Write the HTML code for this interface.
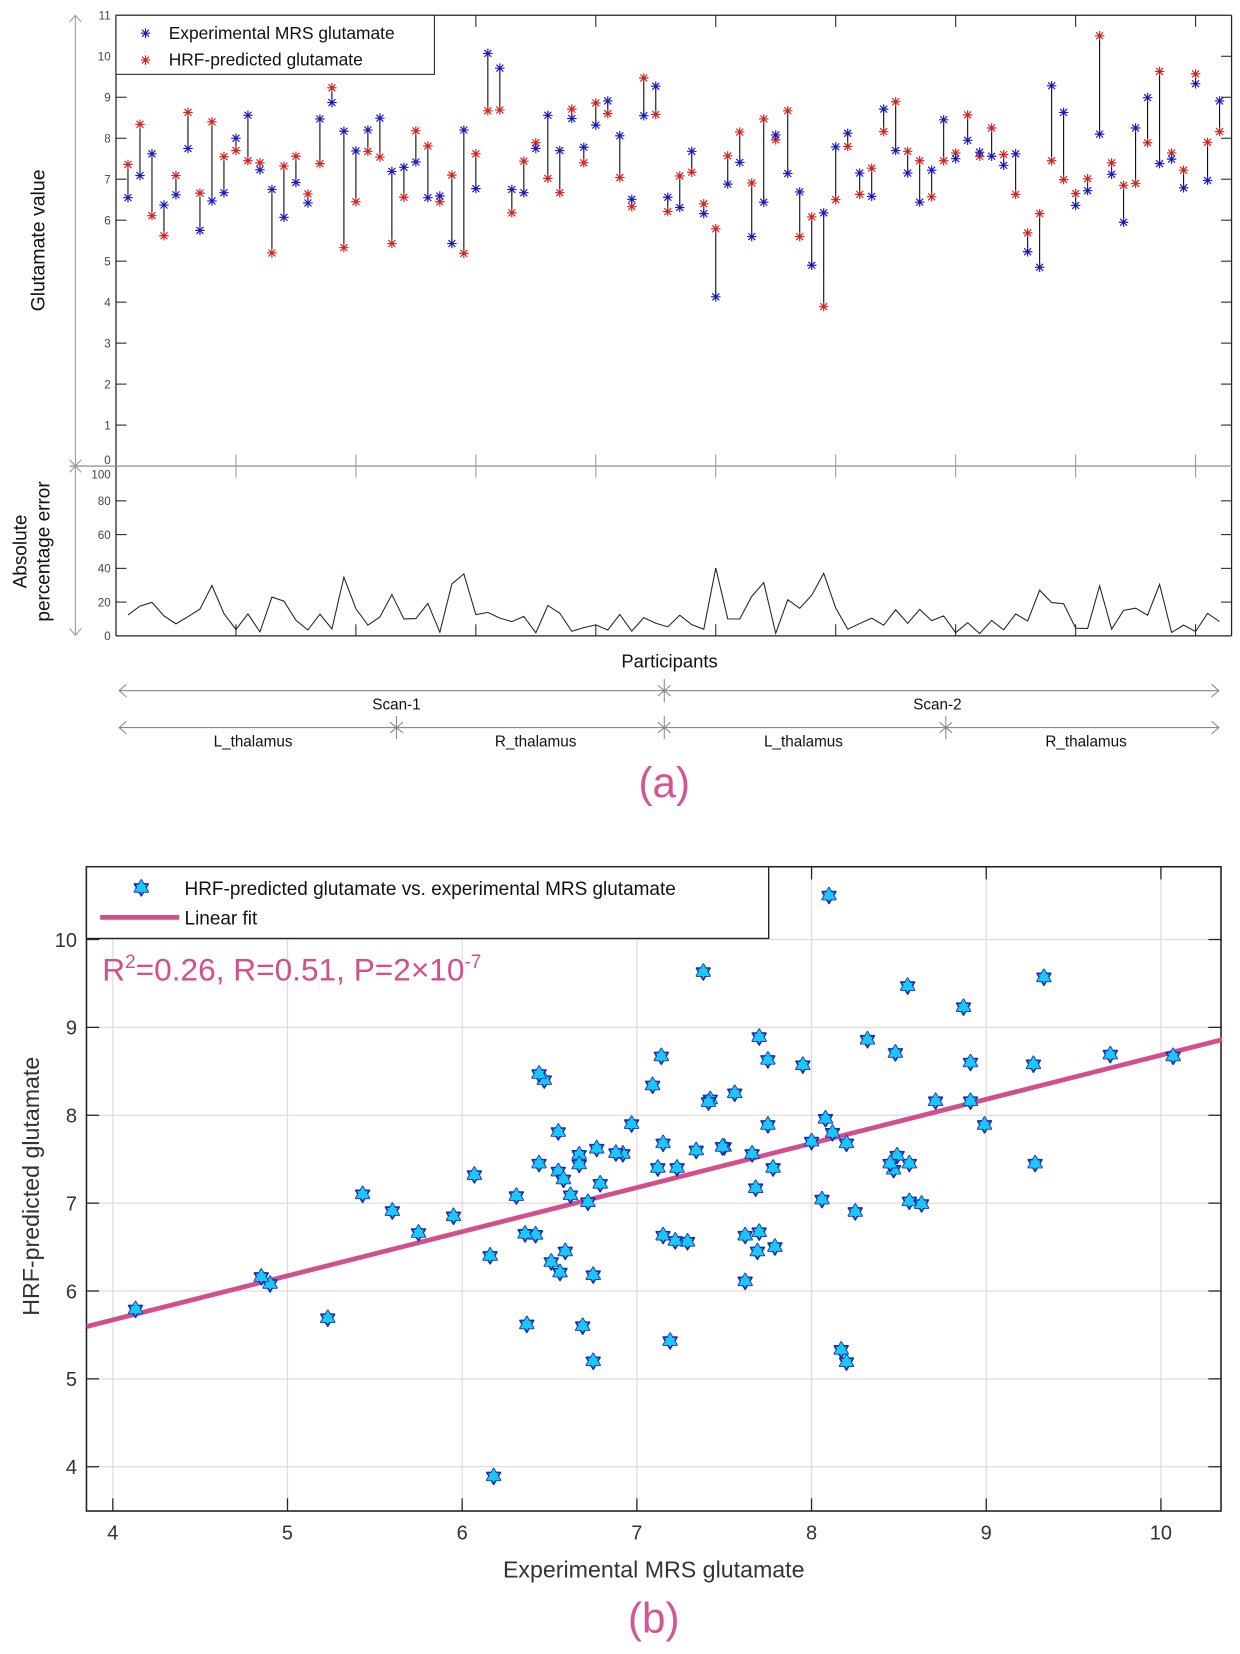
<!DOCTYPE html>
<html><head><meta charset="utf-8"><style>
html,body{margin:0;padding:0;background:#fff;}
svg{display:block;font-family:"Liberation Sans",sans-serif;}
</style></head><body>
<svg id="fig" width="1240" height="1654" viewBox="0 0 1176 1568.6" preserveAspectRatio="none" xmlns="http://www.w3.org/2000/svg">
<g id="pa"></g>
<g id="pb"></g>
</svg>
<script>
const experimental = [6.55,7.09,7.62,6.37,6.62,7.75,5.75,6.47,6.67,8.00,8.56,7.23,6.75,6.07,6.92,6.42,8.47,8.87,8.17,7.69,8.20,8.49,7.19,7.29,7.42,6.55,6.59,5.43,8.20,6.77,10.07,9.71,6.75,6.67,7.75,8.56,7.70,8.48,7.78,8.32,8.91,8.06,6.51,8.55,9.27,6.56,6.31,7.68,6.16,4.13,6.88,7.41,5.60,6.44,8.08,7.14,6.69,4.90,6.18,7.79,8.12,7.15,6.58,8.71,7.70,7.15,6.44,7.22,8.45,7.50,7.95,7.66,7.56,7.34,7.62,5.23,4.85,9.28,8.63,6.36,6.72,8.10,7.12,5.95,8.25,8.99,7.38,7.49,6.79,9.33,6.97,8.91];
const predicted = [7.36,8.34,6.11,5.62,7.09,8.63,6.66,8.40,7.55,7.70,7.45,7.40,5.20,7.32,7.56,6.64,7.38,9.23,5.33,6.45,7.68,7.54,5.43,6.56,8.18,7.81,6.45,7.10,5.19,7.62,8.67,8.69,6.18,7.44,7.89,7.02,6.67,8.71,7.40,8.86,8.60,7.04,6.33,9.47,8.58,6.21,7.08,7.17,6.40,5.79,7.57,8.15,6.91,8.47,7.96,8.67,5.60,6.08,3.89,6.50,7.80,6.63,7.27,8.16,8.89,7.68,7.45,6.57,7.45,7.64,8.57,7.56,8.25,7.60,6.63,5.69,6.16,7.45,6.99,6.65,7.01,10.50,7.40,6.85,6.90,7.89,9.63,7.64,7.22,9.57,7.90,8.16];
const topYTicks = [0,1,2,3,4,5,6,7,8,9,10,11];
const errYTicks = [0,20,40,60,80,100];
const xTicksA = [10,20,30,40,50,60,70,80,90];
const bXTicks = [4,5,6,7,8,9,10];
const bYTicks = [4,5,6,7,8,9,10];
const segLabels = ["L_thalamus","R_thalamus","L_thalamus","R_thalamus"];
const scanLabels = ["Scan-1","Scan-2"];

const NS="http://www.w3.org/2000/svg";
function mk(parent,tag,attrs,txt){const e=document.createElementNS(NS,tag);for(const k in attrs)e.setAttribute(k,attrs[k]);if(txt!==undefined)e.textContent=txt;parent.appendChild(e);return e;}
const pa=document.getElementById('pa'), pb=document.getElementById('pb');

const aL=110,aR=1168,aT=14.5,aZ=442,eB=603;
const xA=i=>aL+i*(aR-aL)/93;
const yA=v=>aZ-v*(aZ-aT)/11;
const yE=v=>eB-v*(eB-443)/100;

topYTicks.forEach(v=>{
  const t=mk(pa,'text',{x:105,y:yA(v)+4-(v==0?6:0),'text-anchor':'end','font-size':11,fill:'#444'},String(v));
  
  
  if(v>0&&v<11){mk(pa,'line',{x1:aL,x2:aL+10,y1:yA(v),y2:yA(v),stroke:'#222'});mk(pa,'line',{x1:aR,x2:aR-10,y1:yA(v),y2:yA(v),stroke:'#222'});}
});
errYTicks.forEach(v=>{
  const t=mk(pa,'text',{x:105,y:yE(v)+4+(v==100?7:0),'text-anchor':'end','font-size':11,fill:'#444'},String(v));
  
  
  if(v>0&&v<100){mk(pa,'line',{x1:aL,x2:aL+10,y1:yE(v),y2:yE(v),stroke:'#222'});mk(pa,'line',{x1:aR,x2:aR-10,y1:yE(v),y2:yE(v),stroke:'#222'});}
});
mk(pa,'line',{x1:aL,x2:aR,y1:aT,y2:aT,stroke:'#222','stroke-width':1.2});
mk(pa,'line',{x1:aL,x2:aL,y1:aT,y2:eB,stroke:'#222','stroke-width':1.2});
mk(pa,'line',{x1:aR,x2:aR,y1:aT,y2:eB,stroke:'#222','stroke-width':1.2});
mk(pa,'line',{x1:aL,x2:aR,y1:eB,y2:eB,stroke:'#222','stroke-width':1.2});
mk(pa,'line',{x1:66,x2:aR,y1:aZ,y2:aZ,stroke:'#999','stroke-width':1.2});
xTicksA.forEach(i=>{
  mk(pa,'line',{x1:xA(i),x2:xA(i),y1:aT,y2:aT+11,stroke:'#222'});
  mk(pa,'line',{x1:xA(i),x2:xA(i),y1:aZ-11,y2:aZ+11,stroke:'#999'});
  mk(pa,'line',{x1:xA(i),x2:xA(i),y1:eB,y2:eB-11,stroke:'#222'});
});
mk(pa,'line',{x1:71.5,x2:71.5,y1:aT,y2:eB,stroke:'#999'});
mk(pa,'path',{d:'M66,21 L71.5,14.5 L77,21 M66,596 L71.5,602.5 L77,596 M66,436 L77,448 M77,436 L66,448',stroke:'#999',fill:'none'});

function asterisk(g,x,y,c,nm){
  const p=mk(g,'path',{d:`M${x-4.5},${y}h9M${x},${y-4.5}v9M${x-3.3},${y-3.3}l6.6,6.6M${x-3.3},${y+3.3}l6.6,-6.6`,stroke:c,'stroke-width':1.1,fill:'none'});
  
  
  return p;
}
experimental.forEach((b,k)=>{
  const i=k+1,r=predicted[k];
  mk(pa,'line',{x1:xA(i),x2:xA(i),y1:yA(b),y2:yA(r),stroke:'#000','stroke-width':1});
});
experimental.forEach((b,k)=>{
  const i=k+1;
  asterisk(pa,xA(i),yA(predicted[k]),'#d42020','predicted-point');
  asterisk(pa,xA(i),yA(b),'#1818c0','experimental-point');
});
const lgA=mk(pa,'g',{});


mk(lgA,'rect',{x:aL,y:aT,width:302,height:56,fill:'#fff',stroke:'#222'});
asterisk(lgA,138,31.5,'#1818c0','legend-marker-experimental');
asterisk(lgA,138,57,'#d42020','legend-marker-predicted');
mk(lgA,'text',{x:160,y:37,'font-size':16.5,fill:'#111'},'Experimental MRS glutamate');
mk(lgA,'text',{x:160,y:62,'font-size':16.5,fill:'#111'},'HRF-predicted glutamate');

const errs=experimental.map((b,k)=>Math.abs(predicted[k]-b)/b*100);
const ep=mk(pa,'polyline',{points:errs.map((e,k)=>xA(k+1)+','+yE(e)).join(' '),fill:'none',stroke:'#222','stroke-width':1});



const yt=mk(pa,'text',{x:0,y:0,transform:'translate(42,228) rotate(-90)','text-anchor':'middle','font-size':18.5,fill:'#111'},'Glutamate value');


const et=mk(pa,'text',{transform:'translate(25,523) rotate(-90)','text-anchor':'middle','font-size':18,fill:'#111'});


mk(et,'tspan',{x:0,y:0},'Absolute');
mk(et,'tspan',{x:0,y:22},'percentage error');
const xt=mk(pa,'text',{x:635,y:633,'text-anchor':'middle','font-size':17.5,fill:'#111'},'Participants');



function row(y,stars){
  mk(pa,'line',{x1:113,x2:1156,y1:y,y2:y,stroke:'#888'});
  mk(pa,'path',{d:`M120,${y-6} L113,${y} L120,${y+6} M1149,${y-6} L1156,${y} L1149,${y+6}`,stroke:'#888',fill:'none'});
  stars.forEach(sx=>mk(pa,'path',{d:`M${sx},${y-11}v22M${sx-6},${y-5}l12,10M${sx-6},${y+5}l12,-10`,stroke:'#888',fill:'none'}));
}
row(655,[630]);
row(690,[376,630,897]);
[376,889].forEach((x,k)=>{const t=mk(pa,'text',{x:x,y:673,'text-anchor':'middle','font-size':14.5,fill:'#111'},scanLabels[k]);
  
  });
[240,508,762,1030].forEach((x,k)=>{const t=mk(pa,'text',{x:x,y:708,'text-anchor':'middle','font-size':14.5,fill:'#111'},segLabels[k]);
  
  });
const la=mk(pa,'text',{x:630,y:756,'text-anchor':'middle','font-size':40,fill:'#d45593'},'(a)');



const bL=82,bR=1158,bT=822,bB=1433;
const xB=v=>107+(v-4)*(1101-107)/6;
const yB=v=>1391-(v-4)*(1391-891)/6;
bXTicks.forEach(v=>{
  mk(pb,'line',{x1:xB(v),x2:xB(v),y1:bT,y2:bB,stroke:'#ddd','stroke-width':1.2});
  mk(pb,'line',{x1:xB(v),x2:xB(v),y1:bB,y2:bB-12,stroke:'#222','stroke-width':1.2});
  mk(pb,'line',{x1:xB(v),x2:xB(v),y1:bT,y2:bT+12,stroke:'#222','stroke-width':1.2});
  const t=mk(pb,'text',{x:xB(v),y:1460,'text-anchor':'middle','font-size':19,fill:'#333'},String(v));
  
  
});
bYTicks.forEach(v=>{
  mk(pb,'line',{x1:bL,x2:bR,y1:yB(v),y2:yB(v),stroke:'#ddd','stroke-width':1.2});
  mk(pb,'line',{x1:bL,x2:bL+12,y1:yB(v),y2:yB(v),stroke:'#222','stroke-width':1.2});
  mk(pb,'line',{x1:bR,x2:bR-12,y1:yB(v),y2:yB(v),stroke:'#222','stroke-width':1.2});
  const t=mk(pb,'text',{x:73,y:yB(v)+7,'text-anchor':'end','font-size':19,fill:'#333'},String(v));
  
  
});
mk(pb,'rect',{x:bL,y:bT,width:bR-bL,height:bB-bT,fill:'none',stroke:'#222','stroke-width':1.5});
const n=experimental.length;
const mx=experimental.reduce((a,b)=>a+b,0)/n, my=predicted.reduce((a,b)=>a+b,0)/n;
let sxy=0,sxx=0;experimental.forEach((x,k)=>{sxy+=(x-mx)*(predicted[k]-my);sxx+=(x-mx)*(x-mx);});
const slope=sxy/sxx, icpt=my-slope*mx;
const x0=3.85,x1=10.35;
const fit=mk(pb,'line',{x1:xB(x0),y1:yB(icpt+slope*x0),x2:xB(x1),y2:yB(icpt+slope*x1),stroke:'#d24f8c','stroke-width':4.5});


function hexa(g,x,y,nm){
  const r=7.5,pts1=[],pts2=[];
  for(let j=0;j<3;j++){const a1=-Math.PI/2+j*2*Math.PI/3,a2=Math.PI/2+j*2*Math.PI/3;
    pts1.push((x+r*Math.cos(a1)).toFixed(1)+','+(y+r*Math.sin(a1)).toFixed(1));
    pts2.push((x+r*Math.cos(a2)).toFixed(1)+','+(y+r*Math.sin(a2)).toFixed(1));}
  const h=mk(g,'g',{});
  
  
  mk(h,'polygon',{points:pts1.join(' '),fill:'#19c8f5',stroke:'#1a2fb0','stroke-width':1.6,'stroke-linejoin':'round'});
  mk(h,'polygon',{points:pts2.join(' '),fill:'#19c8f5',stroke:'#1a2fb0','stroke-width':1.6,'stroke-linejoin':'round'});
  mk(h,'polygon',{points:pts1.join(' '),fill:'#19c8f5',stroke:'none'});
  return h;
}
experimental.forEach((x,k)=>hexa(pb,xB(x),yB(predicted[k]),'scatter-point'));
const lgB=mk(pb,'g',{});


mk(lgB,'rect',{x:bL,y:bT,width:647,height:68,fill:'#fff',stroke:'#222','stroke-width':1.3});
hexa(lgB,134,842,'legend-marker-scatter');
mk(lgB,'line',{x1:95,x2:170,y1:870,y2:870,stroke:'#d24f8c','stroke-width':4.5});
mk(lgB,'text',{x:175,y:849,'font-size':18,fill:'#111'},'HRF-predicted glutamate vs. experimental MRS glutamate');
mk(lgB,'text',{x:175,y:877,'font-size':18,fill:'#111'},'Linear fit');
const st=mk(pb,'text',{x:97,y:930,'font-size':30,fill:'#d24f8c'});


mk(st,'tspan',{},'R');mk(st,'tspan',{dy:-12,'font-size':18},'2');
mk(st,'tspan',{dy:12},'=0.26, R=0.51, P=2×10');mk(st,'tspan',{dy:-12,'font-size':18},'-7');
const bx=mk(pb,'text',{x:620,y:1496,'text-anchor':'middle','font-size':22,fill:'#333'},'Experimental MRS glutamate');


const by=mk(pb,'text',{transform:'translate(37,1125) rotate(-90)','text-anchor':'middle','font-size':22,fill:'#333'},'HRF-predicted glutamate');


const lb=mk(pb,'text',{x:620,y:1548,'text-anchor':'middle','font-size':40,fill:'#d45593'},'(b)');


</script>
</body></html>
